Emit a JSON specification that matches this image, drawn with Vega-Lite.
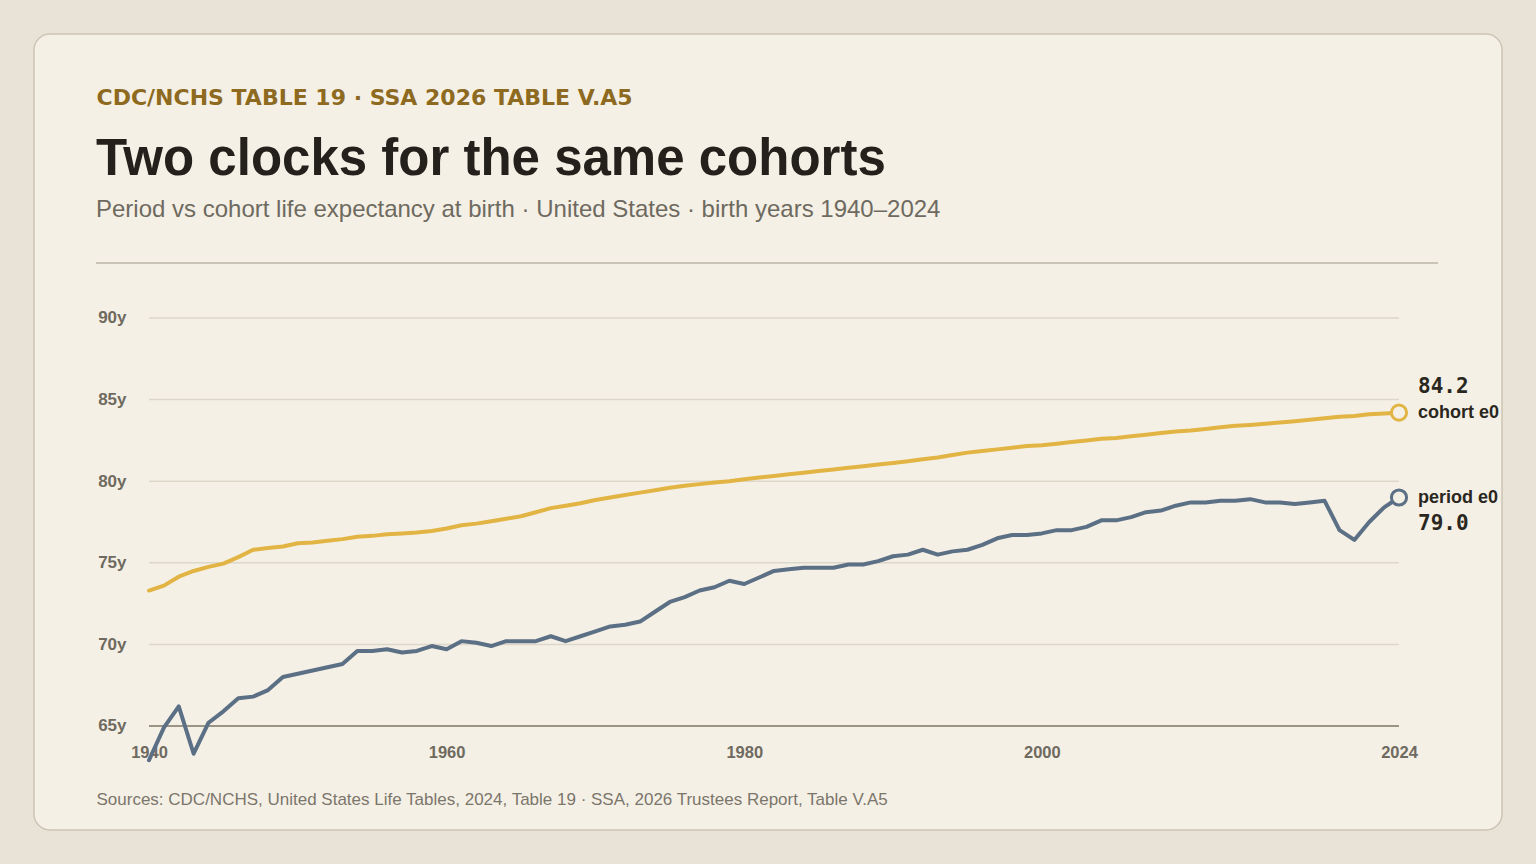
{
  "$schema": "https://vega.github.io/schema/vega-lite/v6.json",
  "width": 1468,
  "height": 796,
  "autosize": {"type": "none"},
  "padding": {"left": 34, "top": 34, "right": 34, "bottom": 34},
  "background": "#e9e3d7",
  "title": {
    "text": "Two clocks for the same cohorts",
    "subtitle": "Period vs cohort life expectancy at birth · United States · birth years 1940–2024",
    "anchor": "start",
    "frame": "group",
    "orient": "top",
    "offset": -189,
    "dx": 62,
    "font": "Liberation Sans",
    "fontSize": 51,
    "fontWeight": "bold",
    "color": "#24211c",
    "subtitleFont": "Liberation Sans",
    "subtitleFontSize": 24,
    "subtitleColor": "#6e6a60",
    "subtitlePadding": 12
  },
  "config": {
    "view": {"fill": "#f5f0e6", "stroke": "#cbc5b3", "strokeWidth": 1.5, "cornerRadius": 16}
  },
  "datasets": {
    "grid": [{"v": 65}, {"v": 70}, {"v": 75}, {"v": 80}, {"v": 85}, {"v": 90}],
    "e0": [
      {"year": 1940, "period": 62.9, "cohort": 73.3},
      {"year": 1941, "period": 64.9, "cohort": 73.6},
      {"year": 1942, "period": 66.2, "cohort": 74.15},
      {"year": 1943, "period": 63.3, "cohort": 74.5},
      {"year": 1944, "period": 65.2, "cohort": 74.75},
      {"year": 1945, "period": 65.9, "cohort": 74.95},
      {"year": 1946, "period": 66.7, "cohort": 75.35},
      {"year": 1947, "period": 66.8, "cohort": 75.8},
      {"year": 1948, "period": 67.2, "cohort": 75.9},
      {"year": 1949, "period": 68.0, "cohort": 76.0},
      {"year": 1950, "period": 68.2, "cohort": 76.2},
      {"year": 1951, "period": 68.4, "cohort": 76.25},
      {"year": 1952, "period": 68.6, "cohort": 76.35},
      {"year": 1953, "period": 68.8, "cohort": 76.45},
      {"year": 1954, "period": 69.6, "cohort": 76.6},
      {"year": 1955, "period": 69.6, "cohort": 76.65},
      {"year": 1956, "period": 69.7, "cohort": 76.75},
      {"year": 1957, "period": 69.5, "cohort": 76.8},
      {"year": 1958, "period": 69.6, "cohort": 76.85},
      {"year": 1959, "period": 69.9, "cohort": 76.95},
      {"year": 1960, "period": 69.7, "cohort": 77.1},
      {"year": 1961, "period": 70.2, "cohort": 77.3},
      {"year": 1962, "period": 70.1, "cohort": 77.4},
      {"year": 1963, "period": 69.9, "cohort": 77.55},
      {"year": 1964, "period": 70.2, "cohort": 77.7},
      {"year": 1965, "period": 70.2, "cohort": 77.85},
      {"year": 1966, "period": 70.2, "cohort": 78.1},
      {"year": 1967, "period": 70.5, "cohort": 78.35},
      {"year": 1968, "period": 70.2, "cohort": 78.5},
      {"year": 1969, "period": 70.5, "cohort": 78.65},
      {"year": 1970, "period": 70.8, "cohort": 78.85},
      {"year": 1971, "period": 71.1, "cohort": 79.0},
      {"year": 1972, "period": 71.2, "cohort": 79.15},
      {"year": 1973, "period": 71.4, "cohort": 79.3},
      {"year": 1974, "period": 72.0, "cohort": 79.45},
      {"year": 1975, "period": 72.6, "cohort": 79.6},
      {"year": 1976, "period": 72.9, "cohort": 79.72},
      {"year": 1977, "period": 73.3, "cohort": 79.82},
      {"year": 1978, "period": 73.5, "cohort": 79.92},
      {"year": 1979, "period": 73.9, "cohort": 80.0},
      {"year": 1980, "period": 73.7, "cohort": 80.12},
      {"year": 1981, "period": 74.1, "cohort": 80.22},
      {"year": 1982, "period": 74.5, "cohort": 80.32},
      {"year": 1983, "period": 74.6, "cohort": 80.42},
      {"year": 1984, "period": 74.7, "cohort": 80.52},
      {"year": 1985, "period": 74.7, "cohort": 80.62},
      {"year": 1986, "period": 74.7, "cohort": 80.72},
      {"year": 1987, "period": 74.9, "cohort": 80.82},
      {"year": 1988, "period": 74.9, "cohort": 80.92},
      {"year": 1989, "period": 75.1, "cohort": 81.02},
      {"year": 1990, "period": 75.4, "cohort": 81.12},
      {"year": 1991, "period": 75.5, "cohort": 81.22},
      {"year": 1992, "period": 75.8, "cohort": 81.35},
      {"year": 1993, "period": 75.5, "cohort": 81.45},
      {"year": 1994, "period": 75.7, "cohort": 81.6},
      {"year": 1995, "period": 75.8, "cohort": 81.75},
      {"year": 1996, "period": 76.1, "cohort": 81.85},
      {"year": 1997, "period": 76.5, "cohort": 81.95},
      {"year": 1998, "period": 76.7, "cohort": 82.05},
      {"year": 1999, "period": 76.7, "cohort": 82.15},
      {"year": 2000, "period": 76.8, "cohort": 82.2},
      {"year": 2001, "period": 77.0, "cohort": 82.3},
      {"year": 2002, "period": 77.0, "cohort": 82.4},
      {"year": 2003, "period": 77.2, "cohort": 82.5},
      {"year": 2004, "period": 77.6, "cohort": 82.6},
      {"year": 2005, "period": 77.6, "cohort": 82.65},
      {"year": 2006, "period": 77.8, "cohort": 82.75},
      {"year": 2007, "period": 78.1, "cohort": 82.85},
      {"year": 2008, "period": 78.2, "cohort": 82.95},
      {"year": 2009, "period": 78.5, "cohort": 83.05},
      {"year": 2010, "period": 78.7, "cohort": 83.1},
      {"year": 2011, "period": 78.7, "cohort": 83.2},
      {"year": 2012, "period": 78.8, "cohort": 83.3},
      {"year": 2013, "period": 78.8, "cohort": 83.4},
      {"year": 2014, "period": 78.9, "cohort": 83.45},
      {"year": 2015, "period": 78.7, "cohort": 83.52},
      {"year": 2016, "period": 78.7, "cohort": 83.6},
      {"year": 2017, "period": 78.6, "cohort": 83.68},
      {"year": 2018, "period": 78.7, "cohort": 83.76},
      {"year": 2019, "period": 78.8, "cohort": 83.85},
      {"year": 2020, "period": 77.0, "cohort": 83.95},
      {"year": 2021, "period": 76.4, "cohort": 84.0},
      {"year": 2022, "period": 77.5, "cohort": 84.1},
      {"year": 2023, "period": 78.4, "cohort": 84.15},
      {"year": 2024, "period": 79.0, "cohort": 84.2}
    ]
  },
  "layer": [
    {
      "data": {"name": "grid"},
      "mark": {"type": "rule"},
      "encoding": {
        "x": {
          "datum": 1940,
          "type": "quantitative",
          "scale": {"domain": [1932.272, 2030.922], "nice": false, "zero": false},
          "axis": {
            "orient": "bottom",
            "offset": -104,
            "values": [1940, 1960, 1980, 2000, 2024],
            "format": "d",
            "domain": false,
            "ticks": false,
            "grid": false,
            "labelPadding": 18,
            "labelFlush": false,
            "labelOverlap": false,
            "labelFont": "Liberation Sans",
            "labelFontSize": 16.5,
            "labelFontWeight": "bold",
            "labelColor": "#6f6a5f",
            "title": "Sources: CDC/NCHS, United States Life Tables, 2024, Table 19 · SSA, 2026 Trustees Report, Table V.A5",
            "titleX": 62,
            "titleY": 78,
            "titleAlign": "left",
            "titleAnchor": "start",
            "titleBaseline": "alphabetic",
            "titleFont": "Liberation Sans",
            "titleFontSize": 17,
            "titleFontWeight": "normal",
            "titleColor": "#7b766b"
          }
        },
        "x2": {"datum": 2024},
        "y": {
          "field": "v",
          "type": "quantitative",
          "scale": {"domain": [58.627, 107.402], "nice": false, "zero": false},
          "axis": {
            "orient": "left",
            "offset": -115,
            "values": [65, 70, 75, 80, 85, 90],
            "labelExpr": "datum.value + 'y'",
            "domain": false,
            "ticks": false,
            "grid": false,
            "labelPadding": 23,
            "labelFont": "Liberation Sans",
            "labelFontSize": 17,
            "labelFontWeight": "bold",
            "labelColor": "#6f6a5f",
            "title": "CDC/NCHS TABLE 19 · SSA 2026 TABLE V.A5",
            "titleAngle": 0,
            "titleX": -53,
            "titleY": 70,
            "titleAlign": "left",
            "titleBaseline": "alphabetic",
            "titleFont": "DejaVu Sans",
            "titleFontSize": 22,
            "titleFontWeight": "bold",
            "titleColor": "#8d6a1f"
          }
        },
        "color": {"condition": {"test": "datum.v == 65", "value": "#9a9485"}, "value": "#ddd7ca"},
        "strokeWidth": {"condition": {"test": "datum.v == 65", "value": 2}, "value": 1.5}
      }
    },
    {
      "data": {"values": [{}]},
      "mark": {"type": "rule", "color": "#c9c4b5", "strokeWidth": 2},
      "encoding": {
        "x": {"datum": 1936.44, "type": "quantitative"},
        "x2": {"datum": 2026.62},
        "y": {"datum": 93.37, "type": "quantitative"}
      }
    },
    {
      "data": {"name": "e0"},
      "transform": [{"fold": ["cohort", "period"], "as": ["series", "e0"]}],
      "layer": [
        {
          "mark": {"type": "line", "strokeWidth": 4, "strokeJoin": "round", "strokeCap": "round"},
          "encoding": {
            "x": {"field": "year", "type": "quantitative"},
            "y": {"field": "e0", "type": "quantitative"},
            "color": {
              "field": "series",
              "type": "nominal",
              "scale": {"domain": ["cohort", "period"], "range": ["#e2b444", "#5b6f85"]},
              "legend": null
            }
          }
        },
        {
          "transform": [
            {"filter": "datum.year == 2024"},
            {"calculate": "datum.series + ' e0'", "as": "label"}
          ],
          "layer": [
            {
              "mark": {"type": "point", "filled": true, "fill": "#f5f0e6", "size": 230, "strokeWidth": 3, "opacity": 1},
              "encoding": {
                "x": {"field": "year", "type": "quantitative"},
                "y": {"field": "e0", "type": "quantitative"},
                "stroke": {"field": "series", "type": "nominal", "scale": {"domain": ["cohort", "period"], "range": ["#e2b444", "#5b6f85"]}, "legend": null}
              }
            },
            {
              "mark": {"type": "text", "align": "left", "baseline": "middle", "dx": 19, "font": "Liberation Sans", "fontSize": 18, "fontWeight": "bold", "color": "#2a2721"},
              "encoding": {
                "x": {"field": "year", "type": "quantitative"},
                "y": {"field": "e0", "type": "quantitative"},
                "text": {"field": "label", "type": "nominal"}
              }
            },
            {
              "transform": [{"filter": "datum.series == 'cohort'"}],
              "mark": {"type": "text", "align": "left", "baseline": "middle", "dx": 19, "dy": -26, "font": "DejaVu Sans Mono", "fontSize": 21, "fontWeight": "bold", "color": "#2a2721"},
              "encoding": {
                "x": {"field": "year", "type": "quantitative"},
                "y": {"field": "e0", "type": "quantitative"},
                "text": {"field": "e0", "type": "quantitative", "format": ".1f"}
              }
            },
            {
              "transform": [{"filter": "datum.series == 'period'"}],
              "mark": {"type": "text", "align": "left", "baseline": "middle", "dx": 19, "dy": 26, "font": "DejaVu Sans Mono", "fontSize": 21, "fontWeight": "bold", "color": "#2a2721"},
              "encoding": {
                "x": {"field": "year", "type": "quantitative"},
                "y": {"field": "e0", "type": "quantitative"},
                "text": {"field": "e0", "type": "quantitative", "format": ".1f"}
              }
            }
          ]
        }
      ]
    }
  ]
}
